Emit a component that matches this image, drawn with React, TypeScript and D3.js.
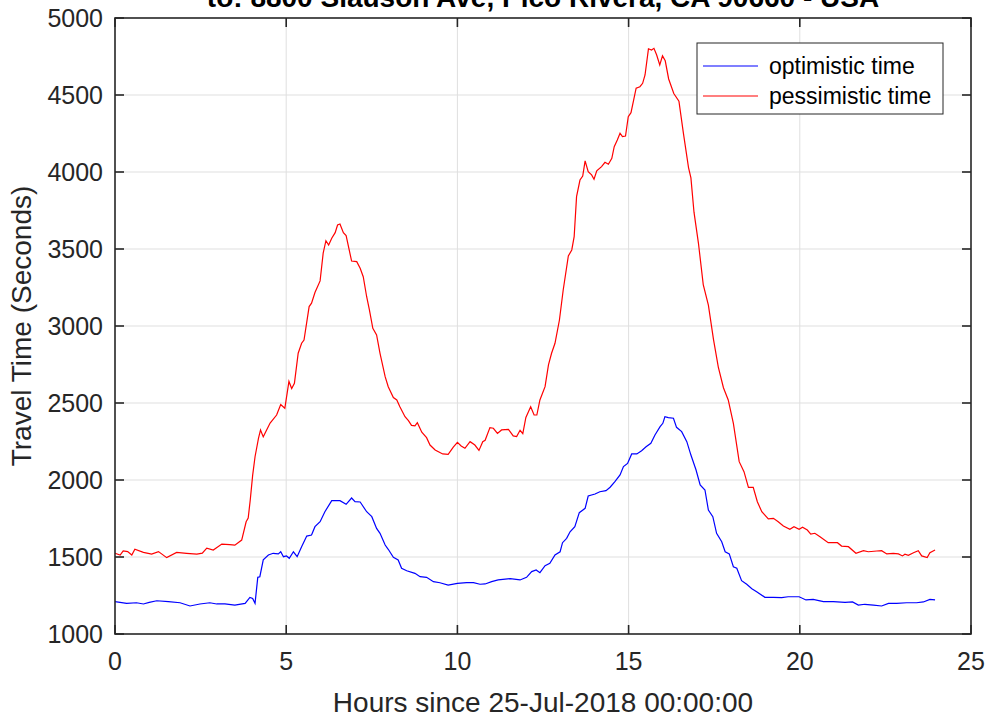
import React, { useEffect, useRef } from 'react';
import * as d3 from 'd3';

// hours since midnight
const redHours = [0, 0.15, 0.24, 0.37, 0.49, 0.58, 0.83, 1.07, 1.27, 1.51, 1.8, 2.09, 2.39, 2.55, 2.68, 2.87, 3.12, 3.35, 3.5, 3.7, 3.83, 3.89, 3.95, 4.02, 4.09, 4.19, 4.25, 4.33, 4.53, 4.72, 4.84, 4.96, 5.08, 5.16, 5.24, 5.35, 5.45, 5.52, 5.67, 5.74, 5.84, 5.99, 6.08, 6.16, 6.24, 6.33, 6.43, 6.5, 6.57, 6.67, 6.75, 6.91, 7.06, 7.16, 7.25, 7.35, 7.43, 7.53, 7.64, 7.74, 7.89, 7.98, 8.13, 8.23, 8.32, 8.47, 8.57, 8.66, 8.76, 8.83, 8.96, 9.1, 9.2, 9.35, 9.57, 9.73, 9.88, 10, 10.11, 10.22, 10.37, 10.51, 10.63, 10.74, 10.81, 10.95, 11.05, 11.17, 11.29, 11.49, 11.63, 11.73, 11.83, 11.91, 12, 12.14, 12.24, 12.32, 12.41, 12.56, 12.66, 12.75, 12.85, 12.98, 13.09, 13.24, 13.34, 13.41, 13.48, 13.58, 13.66, 13.73, 13.82, 13.92, 13.99, 14.07, 14.21, 14.31, 14.41, 14.51, 14.58, 14.67, 14.75, 14.82, 14.91, 14.99, 15.07, 15.22, 15.33, 15.41, 15.48, 15.58, 15.67, 15.74, 15.82, 15.91, 15.99, 16.07, 16.17, 16.32, 16.47, 16.6, 16.75, 16.82, 16.91, 17.04, 17.18, 17.33, 17.48, 17.62, 17.77, 17.91, 18.06, 18.23, 18.37, 18.5, 18.64, 18.76, 18.89, 19.08, 19.23, 19.37, 19.52, 19.71, 19.83, 19.98, 20.08, 20.22, 20.32, 20.44, 20.59, 20.83, 21.1, 21.22, 21.42, 21.64, 21.86, 22, 22.25, 22.39, 22.54, 22.73, 22.88, 23, 23.07, 23.17, 23.32, 23.46, 23.56, 23.72, 23.8, 23.95];
const pessimistic = [1524, 1513, 1540, 1535, 1513, 1551, 1530, 1519, 1535, 1496, 1530, 1524, 1519, 1525, 1558, 1545, 1584, 1580, 1577, 1610, 1729, 1753, 1870, 2030, 2151, 2271, 2325, 2280, 2370, 2422, 2490, 2466, 2640, 2594, 2628, 2823, 2888, 2909, 3126, 3148, 3217, 3293, 3473, 3554, 3526, 3570, 3606, 3656, 3662, 3606, 3587, 3422, 3418, 3375, 3320, 3190, 3104, 2985, 2942, 2823, 2671, 2606, 2535, 2520, 2476, 2411, 2385, 2355, 2351, 2372, 2310, 2275, 2227, 2195, 2169, 2167, 2214, 2244, 2221, 2206, 2249, 2227, 2192, 2249, 2258, 2340, 2336, 2303, 2325, 2329, 2286, 2282, 2323, 2301, 2406, 2476, 2422, 2422, 2520, 2606, 2747, 2823, 2888, 3039, 3234, 3455, 3494, 3580, 3840, 3948, 3974, 4072, 4002, 3981, 3953, 4007, 4035, 4063, 4050, 4089, 4164, 4208, 4252, 4230, 4234, 4359, 4385, 4544, 4554, 4576, 4630, 4800, 4792, 4803, 4760, 4695, 4754, 4722, 4604, 4510, 4460, 4252, 4029, 3962, 3739, 3537, 3269, 3135, 2912, 2733, 2599, 2520, 2368, 2119, 2054, 1952, 1952, 1859, 1794, 1747, 1751, 1729, 1701, 1680, 1697, 1680, 1693, 1675, 1649, 1654, 1632, 1593, 1593, 1571, 1567, 1524, 1541, 1534, 1539, 1541, 1520, 1524, 1520, 1507, 1518, 1511, 1528, 1541, 1507, 1496, 1528, 1545];

const blueHours = [0, 0.34, 0.63, 0.83, 1, 1.22, 1.56, 1.9, 2.19, 2.48, 2.77, 2.97, 3.21, 3.5, 3.8, 3.94, 4.02, 4.09, 4.17, 4.23, 4.33, 4.48, 4.62, 4.77, 4.84, 4.92, 5.01, 5.09, 5.21, 5.32, 5.45, 5.6, 5.74, 5.84, 5.99, 6.13, 6.33, 6.57, 6.75, 6.91, 7.01, 7.16, 7.35, 7.5, 7.64, 7.74, 7.89, 7.98, 8.13, 8.27, 8.37, 8.52, 8.76, 8.91, 9.1, 9.3, 9.49, 9.73, 10, 10.27, 10.47, 10.66, 10.81, 11, 11.19, 11.54, 11.83, 12.02, 12.17, 12.3, 12.41, 12.56, 12.7, 12.85, 13, 13.07, 13.19, 13.29, 13.43, 13.56, 13.73, 13.82, 14.02, 14.16, 14.34, 14.46, 14.6, 14.75, 14.85, 14.97, 15.09, 15.24, 15.38, 15.51, 15.65, 15.77, 15.92, 16, 16.06, 16.16, 16.31, 16.4, 16.55, 16.7, 16.82, 16.97, 17.09, 17.23, 17.33, 17.46, 17.57, 17.72, 17.82, 17.94, 18.06, 18.16, 18.3, 18.45, 18.6, 18.74, 18.98, 19.23, 19.47, 19.66, 19.98, 20.18, 20.39, 20.69, 20.98, 21.32, 21.54, 21.71, 21.9, 22.15, 22.39, 22.59, 22.83, 23.12, 23.41, 23.61, 23.8, 23.95];
const optimistic = [1210, 1199, 1203, 1195, 1205, 1216, 1210, 1203, 1182, 1195, 1203, 1195, 1195, 1188, 1199, 1238, 1231, 1199, 1368, 1372, 1481, 1513, 1524, 1520, 1534, 1502, 1507, 1492, 1534, 1502, 1567, 1636, 1643, 1697, 1729, 1794, 1866, 1866, 1842, 1883, 1859, 1857, 1794, 1762, 1686, 1654, 1578, 1550, 1498, 1481, 1427, 1411, 1394, 1372, 1368, 1340, 1333, 1318, 1329, 1333, 1333, 1323, 1325, 1340, 1351, 1359, 1351, 1368, 1405, 1416, 1398, 1444, 1459, 1513, 1534, 1593, 1621, 1664, 1697, 1788, 1816, 1896, 1909, 1924, 1931, 1953, 1989, 2033, 2087, 2108, 2169, 2169, 2190, 2216, 2238, 2292, 2346, 2368, 2411, 2405, 2401, 2342, 2314, 2249, 2162, 2065, 1968, 1935, 1805, 1762, 1654, 1599, 1534, 1520, 1437, 1427, 1346, 1323, 1294, 1275, 1238, 1238, 1236, 1242, 1242, 1221, 1225, 1210, 1210, 1206, 1208, 1188, 1193, 1188, 1182, 1199, 1199, 1203, 1203, 1208, 1225, 1221];

const xTicks = [0, 5, 10, 15, 20, 25];
const yTicks = [1000, 1500, 2000, 2500, 3000, 3500, 4000, 4500, 5000];
const seriesNames = ['optimistic time', 'pessimistic time'];

const W = 987;
const H = 717;
const font = '"Liberation Sans", Arial, sans-serif';
const ink = '#262626';

export default function App() {
  const ref = useRef<SVGSVGElement>(null);

  useEffect(() => {
    const svg = d3.select(ref.current);
    svg.selectAll('*').remove();

    const left = 115, right = 971, top = 18, bottom = 634;
    const x = d3.scaleLinear().domain([0, 25]).range([left, right]);
    const y = d3.scaleLinear().domain([1000, 5000]).range([bottom, top]);

    svg.append('rect').attr('width', W).attr('height', H).attr('fill', '#fff');

    // grid
    const grid = svg.append('g').attr('stroke', '#dfdfdf').attr('stroke-width', 1);
    xTicks.slice(1, -1).forEach((t) => {
      grid.append('line').attr('x1', x(t)).attr('x2', x(t)).attr('y1', top).attr('y2', bottom);
    });
    yTicks.slice(1, -1).forEach((t) => {
      grid.append('line').attr('x1', left).attr('x2', right).attr('y1', y(t)).attr('y2', y(t));
    });

    const line = d3.line<[number, number]>().x((d) => x(d[0])).y((d) => y(d[1]));

    svg.append('path')
      .datum(blueHours.map((h, i) => [h, optimistic[i]] as [number, number]))
      .attr('d', line)
      .attr('fill', 'none')
      .attr('stroke', '#0000ff')
      .attr('stroke-width', 1.2);

    svg.append('path')
      .datum(redHours.map((h, i) => [h, pessimistic[i]] as [number, number]))
      .attr('d', line)
      .attr('fill', 'none')
      .attr('stroke', '#ff0000')
      .attr('stroke-width', 1.2);

    // box + inward ticks on all sides
    const tl = 9;
    const ax = svg.append('g').attr('stroke', ink).attr('stroke-width', 1.6);
    ax.append('rect')
      .attr('x', left).attr('y', top)
      .attr('width', right - left).attr('height', bottom - top)
      .attr('fill', 'none');
    xTicks.forEach((t) => {
      ax.append('line').attr('x1', x(t)).attr('x2', x(t)).attr('y1', bottom).attr('y2', bottom - tl);
      ax.append('line').attr('x1', x(t)).attr('x2', x(t)).attr('y1', top).attr('y2', top + tl);
    });
    yTicks.forEach((t) => {
      ax.append('line').attr('x1', left).attr('x2', left + tl).attr('y1', y(t)).attr('y2', y(t));
      ax.append('line').attr('x1', right).attr('x2', right - tl).attr('y1', y(t)).attr('y2', y(t));
    });

    const txt = svg.append('g').attr('font-family', font).attr('fill', ink);
    xTicks.forEach((t) => {
      txt.append('text')
        .attr('x', x(t)).attr('y', 670)
        .attr('text-anchor', 'middle')
        .attr('font-size', 25)
        .text(t);
    });
    yTicks.forEach((t) => {
      txt.append('text')
        .attr('x', 103).attr('y', y(t))
        .attr('dy', '0.35em')
        .attr('text-anchor', 'end')
        .attr('font-size', 25)
        .text(t);
    });

    txt.append('text')
      .attr('x', (left + right) / 2).attr('y', 712)
      .attr('text-anchor', 'middle')
      .attr('font-size', 28)
      .text('Hours since 25-Jul-2018 00:00:00');

    txt.append('text')
      .attr('transform', `translate(31,${(top + bottom) / 2}) rotate(-90)`)
      .attr('text-anchor', 'middle')
      .attr('font-size', 28)
      .text('Travel Time (Seconds)');

    // title: only its bottom shows, as in the source figure
    svg.append('text')
      .attr('x', (left + right) / 2).attr('y', 7)
      .attr('text-anchor', 'middle')
      .attr('font-family', font)
      .attr('font-weight', 'bold')
      .attr('font-size', 28)
      .attr('fill', '#000')
      .text('to: 8800 Slauson Ave, Pico Rivera, CA  90660 - USA');

    // legend
    const lg = svg.append('g');
    lg.append('rect')
      .attr('x', 697).attr('y', 43).attr('width', 246).attr('height', 71)
      .attr('fill', '#fff').attr('stroke', ink).attr('stroke-width', 1);
    const colors = ['#0000ff', '#ff0000'];
    seriesNames.forEach((name, i) => {
      const ly = 66 + i * 30;
      lg.append('line')
        .attr('x1', 703).attr('x2', 758).attr('y1', ly).attr('y2', ly)
        .attr('stroke', colors[i]).attr('stroke-width', 1.2);
      lg.append('text')
        .attr('x', 769).attr('y', ly).attr('dy', '0.35em')
        .attr('font-family', font).attr('font-size', 23)
        .attr('fill', '#000')
        .text(name);
    });
  }, []);

  return (
    <svg
      ref={ref}
      width={W}
      height={H}
      style={{ position: 'absolute', left: 0, top: 0, display: 'block' }}
    />
  );
}
